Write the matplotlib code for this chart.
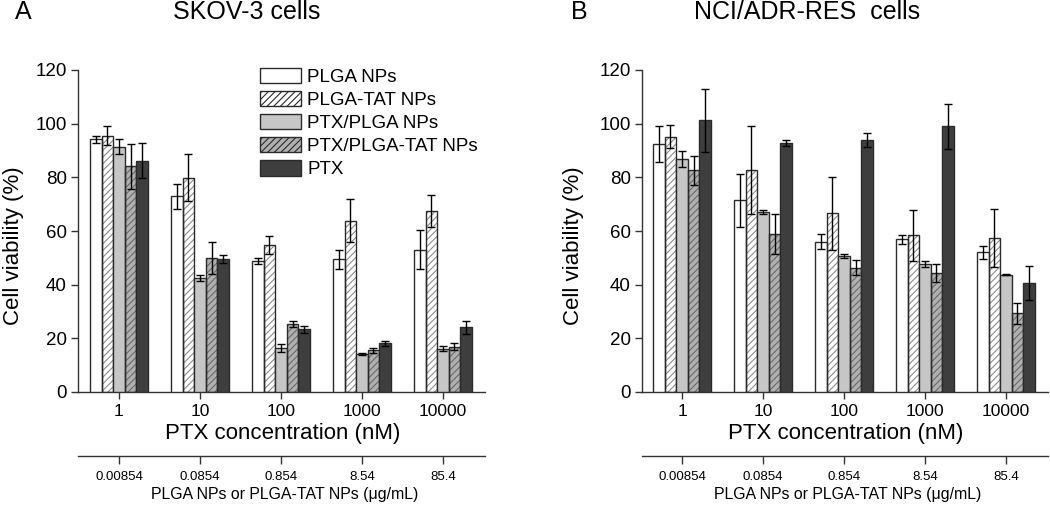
import matplotlib
matplotlib.use("Agg")
import matplotlib.pyplot as plt
import numpy as np
from matplotlib.patches import Patch

plt.rcParams['font.family'] = ['Liberation Sans', 'DejaVu Sans']
plt.rcParams['hatch.linewidth'] = 0.8

conc_labels = ["1", "10", "100", "1000", "10000"]
np_labels = ["0.00854", "0.0854", "0.854", "8.54", "85.4"]
series = ["PLGA NPs", "PLGA-TAT NPs", "PTX/PLGA NPs", "PTX/PLGA-TAT NPs", "PTX"]

# SKOV-3 cells: mean and error per series (5 concentrations)
skov_mean = {
    "PLGA NPs":         [94.2, 73.0, 48.8, 49.4, 53.0],
    "PLGA-TAT NPs":     [95.5, 79.9, 54.7, 63.9, 67.5],
    "PTX/PLGA NPs":     [91.4, 42.5, 16.3, 14.2, 16.1],
    "PTX/PLGA-TAT NPs": [84.2, 49.9, 25.3, 15.5, 16.9],
    "PTX":              [86.2, 49.4, 23.4, 18.1, 24.1],
}
skov_err = {
    "PLGA NPs":         [1.3, 4.7, 1.2, 3.7, 7.3],
    "PLGA-TAT NPs":     [3.5, 8.9, 3.4, 7.9, 6.0],
    "PTX/PLGA NPs":     [2.8, 1.1, 1.5, 0.3, 0.9],
    "PTX/PLGA-TAT NPs": [8.4, 6.0, 1.2, 1.0, 1.2],
    "PTX":              [6.5, 1.5, 1.3, 1.0, 2.5],
}
# NCI/ADR-RES cells
nci_mean = {
    "PLGA NPs":         [92.4, 71.4, 56.0, 56.9, 52.0],
    "PLGA-TAT NPs":     [95.2, 82.7, 66.6, 58.5, 57.3],
    "PTX/PLGA NPs":     [86.7, 67.1, 50.7, 47.8, 43.7],
    "PTX/PLGA-TAT NPs": [82.6, 58.9, 46.3, 44.3, 29.4],
    "PTX":              [101.2, 92.7, 93.9, 99.1, 40.6],
}
nci_err = {
    "PLGA NPs":         [6.8, 10.0, 2.8, 1.6, 2.3],
    "PLGA-TAT NPs":     [4.3, 16.3, 13.7, 9.5, 10.8],
    "PTX/PLGA NPs":     [3.0, 0.6, 0.6, 1.2, 0.2],
    "PTX/PLGA-TAT NPs": [5.3, 7.5, 2.8, 3.4, 3.9],
    "PTX":              [11.6, 1.1, 2.5, 8.4, 6.2],
}

styles = {
    "PLGA NPs":         dict(face="white", hatch=None, hcol=None),
    "PLGA-TAT NPs":     dict(face="white", hatch="/////", hcol="#8c8c8c"),
    "PTX/PLGA NPs":     dict(face="#c6c6c6", hatch=None, hcol=None),
    "PTX/PLGA-TAT NPs": dict(face="#b0b0b0", hatch="/////", hcol="#6a6a6a"),
    "PTX":              dict(face="#3e3e3e", hatch=None, hcol=None),
}
edge = "#2a2a2a"

W, H = 1050, 505
fig = plt.figure(figsize=(W / 100, H / 100), dpi=100)

def fx(px):
    return px / W

def fy(py):
    return 1 - py / H

def draw_panel(x0, x1, xmin, xmax, means, errs, letter, lx, title, tx, ylx, show_legend):
    ax = fig.add_axes([fx(x0), fy(392), fx(x1) - fx(x0), fy(70) - fy(392)])
    x = np.arange(len(conc_labels))
    bw = 0.143
    for i, s in enumerate(series):
        pos = x + (i - 2) * bw
        st = styles[s]
        if st["hatch"]:
            ax.bar(pos, means[s], bw, color=st["face"], hatch=st["hatch"],
                   edgecolor=st["hcol"], linewidth=0, zorder=2)
            ax.bar(pos, means[s], bw, fill=False, edgecolor=edge, linewidth=1.0, zorder=3)
        else:
            ax.bar(pos, means[s], bw, color=st["face"], edgecolor=edge, linewidth=1.0, zorder=3)
        ax.errorbar(pos, means[s], yerr=errs[s], fmt="none", ecolor="black",
                    elinewidth=1.0, capsize=3.2, capthick=1.0, zorder=4)
    ax.set_xlim(xmin, xmax)
    ax.set_ylim(0, 120)
    ax.set_yticks([0, 20, 40, 60, 80, 100, 120])
    ax.set_xticks(x)
    ax.set_xticklabels(conc_labels, fontsize=12.5)
    ax.tick_params(axis="x", length=5, width=1, pad=4, color="#333333")
    ax.tick_params(axis="y", labelsize=13.5, length=5, width=1, pad=3, color="#333333")
    for sp in ("top", "right"):
        ax.spines[sp].set_visible(False)
    for sp in ("left", "bottom"):
        ax.spines[sp].set_linewidth(1.0)
        ax.spines[sp].set_color("#333333")

    # secondary axis (NP concentration)
    ax2 = fig.add_axes([fx(x0), fy(456), fx(x1) - fx(x0), 0.001])
    ax2.set_xlim(xmin, xmax)
    ax2.set_yticks([])
    ax2.set_xticks(x)
    ax2.set_xticklabels(np_labels, fontsize=9.5)
    ax2.tick_params(axis="x", length=6, width=1, direction="out", pad=5, color="#333333")
    for sp in ("top", "right", "left"):
        ax2.spines[sp].set_visible(False)
    ax2.spines["bottom"].set_linewidth(1.0)
    ax2.spines["bottom"].set_color("#333333")
    ax2.patch.set_visible(False)

    xc = (x0 + x1) / 2
    fig.text(fx(xc + 1), fy(433), "PTX concentration (nM)", fontsize=16, ha="center", va="center")
    fig.text(fx(xc + 3), fy(495), "PLGA NPs or PLGA-TAT NPs (\u03bcg/mL)", fontsize=11.4,
             ha="center", va="center")
    fig.text(fx(ylx), fy(246), "Cell viability (%)", fontsize=16, rotation=90,
             ha="center", va="center")
    fig.text(fx(lx), fy(12), letter, fontsize=18, ha="left", va="center")
    fig.text(fx(tx), fy(12), title, fontsize=18, ha="center", va="center")

    if show_legend:
        handles = []
        for s in series:
            st = styles[s]
            handles.append(Patch(facecolor=st["face"], edgecolor=edge, linewidth=1.0,
                                 hatch=st["hatch"]))
        fig.legend(handles, series, loc="upper left",
                   bbox_to_anchor=(fx(252), fy(60)), frameon=False,
                   fontsize=13.5, handlelength=2.2, handleheight=0.9,
                   labelspacing=0.26, handletextpad=0.35, borderaxespad=0)
    return ax

draw_panel(78, 485, -0.506, 4.52, skov_mean, skov_err, "A", 15, "SKOV-3 cells", 247, 14, True)
draw_panel(642, 1048, -0.494, 4.52, nci_mean, nci_err, "B", 571, "NCI/ADR-RES  cells", 807, 574, False)

fig.savefig("out.png", dpi=100)
